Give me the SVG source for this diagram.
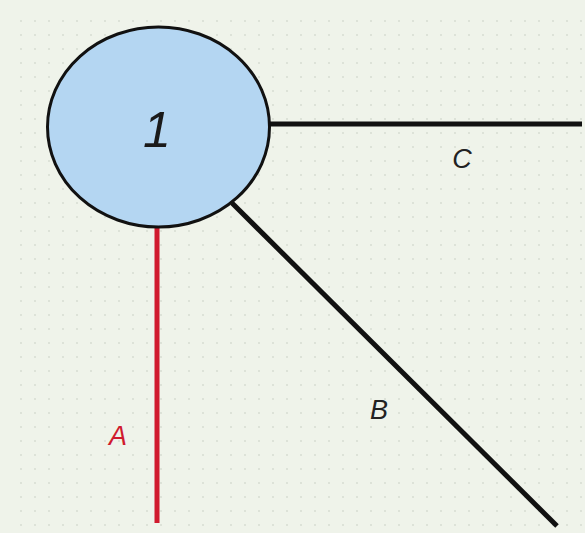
<svg xmlns="http://www.w3.org/2000/svg" width="585" height="533" viewBox="0 0 585 533">
<defs>
<pattern id="dots" width="14" height="14" patternUnits="userSpaceOnUse">
<circle cx="7" cy="7" r="0.9" fill="#c9cfc4"/>
</pattern>
<style>
.edge{stroke:#111;stroke-width:5;stroke-linecap:butt;fill:none}
.red{stroke:#d01a2e}
.lbl{font-family:"Liberation Sans",Arial,sans-serif;font-style:italic;font-size:27px;fill:#222}
</style>
</defs>
<rect width="585" height="533" fill="#eff3ea"/>
<rect x="8" y="8" width="577" height="525" fill="url(#dots)" opacity="0.7"/>
<g id="connectors">
<line class="edge" x1="268" y1="124" x2="582" y2="124"/>
<line class="edge" x1="232" y1="203" x2="557" y2="526"/>
<line class="edge red" x1="157" y1="226" x2="157" y2="523"/>
</g>
<g id="node1">
<ellipse cx="158.5" cy="127" rx="111" ry="100" fill="#b4d6f2" stroke="#111" stroke-width="3"/>
<text x="157" y="147" text-anchor="middle" class="lbl" style="font-size:50px;fill:#1a1a1a">1</text>
</g>
<g id="labels">
<text x="462" y="168" text-anchor="middle" class="lbl">C</text>
<text x="379" y="419" text-anchor="middle" class="lbl">B</text>
<text x="118" y="445" text-anchor="middle" class="lbl" style="fill:#d01a2e">A</text>
</g>
</svg>
